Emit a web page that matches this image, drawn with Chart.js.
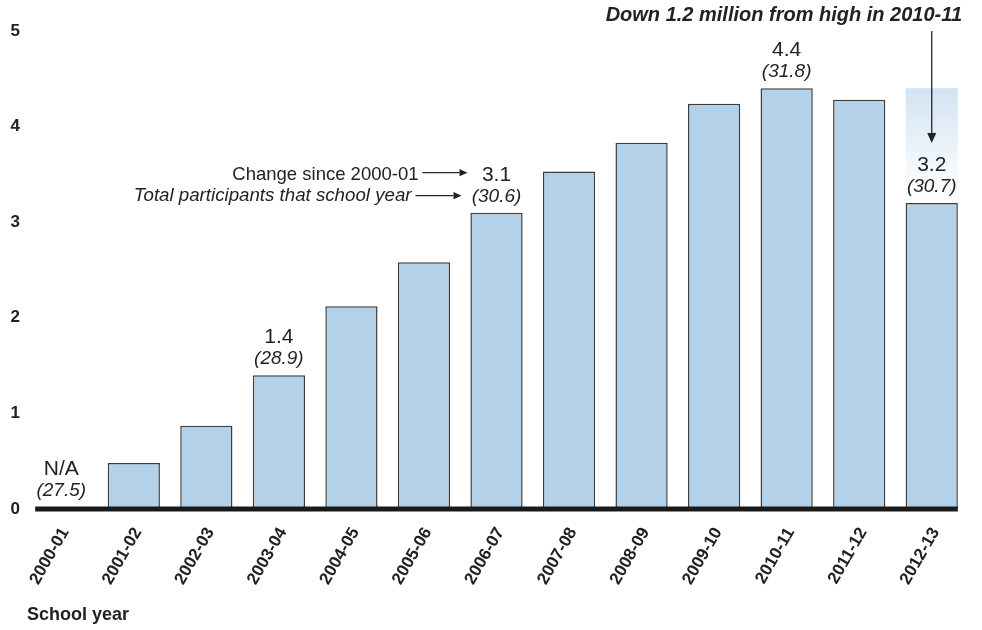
<!DOCTYPE html>
<html>
<head>
<meta charset="utf-8">
<script src="https://cdn.jsdelivr.net/npm/chart.js@4/dist/chart.umd.min.js"></script>
<style>
  html, body { margin: 0; padding: 0; background: #fff; }
  #wrap { width: 982px; height: 630px; }
</style>
</head>
<body>
<div id="wrap"><canvas id="chart" width="982" height="630"></canvas></div>
<script>
// School years on the x axis
const schoolYears = ['2000-01', '2001-02', '2002-03', '2003-04', '2004-05', '2005-06', '2006-07',
                     '2007-08', '2008-09', '2009-10', '2010-11', '2011-12', '2012-13'];
// Change in participants since 2000-01, in millions (no change for the base year)
const changeSince2000 = [null, 0.48, 0.87, 1.4, 2.12, 2.58, 3.1, 3.53, 3.83, 4.24, 4.4, 4.28, 3.2];
// Years that carry value labels, with total participants (millions) that year
const labelledYears = ['2000-01', '2003-04', '2006-07', '2010-11', '2012-13'];
const totalParticipants = [27.5, 28.9, 30.6, 31.8, 30.7];
// Y axis ticks
const yTicks = [0, 1, 2, 3, 4, 5];

const FONT = "'Liberation Sans', Arial, Helvetica, sans-serif";
const TEXT = '#222222';
const BAR_FILL = '#b3d2ea';
const BAR_EDGE = '#3d3d3d';

const lastIdx = changeSince2000.length - 1;
const peakValue = Math.max(...changeSince2000.filter(v => v != null));
const latestValue = changeSince2000[lastIdx];
// Shaded drop from the peak down to the latest year
const dropRange = schoolYears.map((_, i) => i === lastIdx ? [latestValue, peakValue] : null);

function dropGradient(ctx) {
  const chart = ctx.chart;
  if (!chart.chartArea) return '#dbe9f4';
  const ys = chart.scales.y;
  const g = chart.ctx.createLinearGradient(0, ys.getPixelForValue(peakValue), 0, ys.getPixelForValue(latestValue));
  g.addColorStop(0, '#d2e3f2');
  g.addColorStop(0.8, '#f8fbfd');
  g.addColorStop(1, '#ffffff');
  return g;
}

function arrow(ctx, x1, y1, x2, y2, head) {
  const ang = Math.atan2(y2 - y1, x2 - x1);
  ctx.beginPath();
  ctx.moveTo(x1, y1);
  ctx.lineTo(x2 - Math.cos(ang) * head, y2 - Math.sin(ang) * head);
  ctx.stroke();
  ctx.beginPath();
  ctx.moveTo(x2, y2);
  ctx.lineTo(x2 - Math.cos(ang) * head + Math.sin(ang) * head * 0.45,
             y2 - Math.sin(ang) * head - Math.cos(ang) * head * 0.45);
  ctx.lineTo(x2 - Math.cos(ang) * head - Math.sin(ang) * head * 0.45,
             y2 - Math.sin(ang) * head + Math.cos(ang) * head * 0.45);
  ctx.closePath();
  ctx.fill();
}

const annotations = {
  id: 'annotations',
  afterDatasetsDraw(chart) {
    const ctx = chart.ctx;
    const xs = chart.scales.x, ys = chart.scales.y;
    const meta = chart.getDatasetMeta(0);
    const barW = meta.data[1].width;
    const y0 = ys.getPixelForValue(0);

    ctx.save();
    // Heavy baseline under the bars
    const left = xs.getPixelForValue(0) - barW / 2;
    const right = xs.getPixelForValue(lastIdx) + barW / 2;
    ctx.fillStyle = '#1a1a1a';
    ctx.fillRect(left, y0 - 2.5, right - left, 5);

    // Value labels: change (top) and total participants (italic, below)
    ctx.fillStyle = TEXT;
    ctx.textAlign = 'center';
    ctx.textBaseline = 'alphabetic';
    labelledYears.forEach((yr, k) => {
      const i = schoolYears.indexOf(yr);
      const v = changeSince2000[i];
      const cx = xs.getPixelForValue(i);
      const top = v == null ? y0 - 2 : ys.getPixelForValue(v);
      ctx.font = `21px ${FONT}`;
      ctx.fillText(v == null ? 'N/A' : v.toFixed(1), cx, top - 32);
      ctx.font = `italic 19px ${FONT}`;
      ctx.fillText(`(${totalParticipants[k].toFixed(1)})`, cx, top - 11);
    });

    // Key to the two label lines, pointing at 2006-07
    const keyIdx = schoolYears.indexOf('2006-07');
    const kx = xs.getPixelForValue(keyIdx);
    const ktop = ys.getPixelForValue(changeSince2000[keyIdx]);
    ctx.strokeStyle = '#262626';
    ctx.lineWidth = 1.3;
    ctx.textAlign = 'right';
    ctx.font = `18.5px ${FONT}`;
    ctx.fillText('Change since 2000-01', kx - 78, ktop - 33);
    arrow(ctx, kx - 74, ktop - 40, kx - 29, ktop - 40, 8);
    ctx.font = `italic 18.7px ${FONT}`;
    ctx.fillText('Total participants that school year', kx - 85, ktop - 12);
    arrow(ctx, kx - 81, ktop - 17, kx - 35, ktop - 17, 8);

    // Headline with arrow into the latest year
    const lx = xs.getPixelForValue(lastIdx);
    ctx.font = `italic bold 20px ${FONT}`;
    ctx.textAlign = 'right';
    ctx.fillText('Down 1.2 million from high in 2010-11', 962, 21);
    arrow(ctx, lx, 31, lx, ys.getPixelForValue(latestValue) - 60, 10);

    // Axis title
    ctx.textAlign = 'left';
    ctx.font = `bold 18px ${FONT}`;
    ctx.fillText('School year', 27, 620);
    ctx.restore();
  }
};

new Chart(document.getElementById('chart'), {
  type: 'bar',
  data: {
    labels: schoolYears,
    datasets: [
      {
        data: changeSince2000,
        backgroundColor: BAR_FILL,
        borderColor: BAR_EDGE,
        borderWidth: 1.5,
        barPercentage: 0.72,
        categoryPercentage: 1,
        grouped: false,
        order: 1
      },
      {
        data: dropRange,
        backgroundColor: dropGradient,
        borderWidth: 0,
        barPercentage: 0.72,
        categoryPercentage: 1,
        grouped: false,
        order: 2
      }
    ]
  },
  options: {
    responsive: false,
    animation: false,
    devicePixelRatio: 1,
    layout: { padding: { top: 31, right: 14, left: 0, bottom: 0 } },
    plugins: { legend: { display: false }, tooltip: { enabled: false } },
    scales: {
      x: {
        grid: { display: false, drawTicks: false },
        border: { display: false },
        ticks: {
          color: TEXT,
          font: { family: FONT, size: 17, weight: 'bold' },
          minRotation: 60,
          maxRotation: 60,
          autoSkip: false,
          padding: 15,
          labelOffset: 4
        },
        afterFit: s => { s.height = 121; }
      },
      y: {
        min: yTicks[0],
        max: yTicks[yTicks.length - 1],
        afterBuildTicks: s => { s.ticks = yTicks.map(v => ({ value: v })); },
        grid: { display: false, drawTicks: false },
        border: { display: false },
        ticks: {
          color: TEXT,
          font: { family: FONT, size: 17, weight: 'bold' },
          padding: 5
        },
        afterFit: s => { s.width = 25; }
      }
    }
  },
  plugins: [annotations]
});
</script>
</body>
</html>
